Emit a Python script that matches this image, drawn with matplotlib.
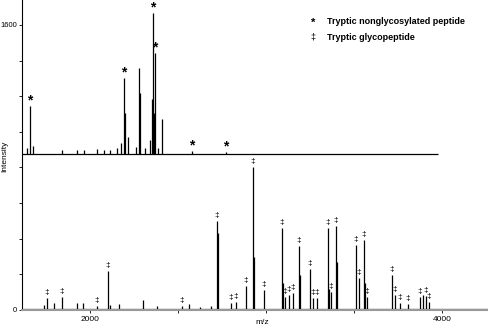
import matplotlib
matplotlib.use("Agg")
import matplotlib.pyplot as plt

plt.rcParams['font.family'] = ['Liberation Sans', 'DejaVu Sans']

# ---- data ----
top_offset = 876
top_mz = [1642, 1659, 1676, 1841, 1926, 1966, 2040, 2080, 2114, 2153, 2176, 2193,
          2199, 2216, 2261, 2278, 2284, 2313, 2341, 2352, 2358, 2366, 2369, 2386,
          2409, 2580, 2773]
top_int = [34, 270, 45, 22, 22, 22, 28, 22, 22, 34, 62, 427,
           230, 95, 39, 483, 343, 34, 79, 309, 792, 230, 567, 34,
           197, 17, 11]
top_starred = [1659, 2193, 2358, 2369, 2580, 2773]

bot_mz = [1739, 1756, 1795, 1841, 1926, 1960, 2040, 2102, 2114, 2165, 2301, 2381,
          2523, 2563, 2625, 2688, 2722, 2727, 2801, 2830, 2886, 2926, 2932, 2989,
          3091, 3097, 3108, 3131, 3153, 3188, 3193, 3250, 3267, 3290, 3352, 3358,
          3369, 3398, 3403, 3511, 3528, 3557, 3563, 3574, 3716, 3733, 3761, 3807,
          3875, 3892, 3909, 3926]
bot_int = [28, 67, 39, 73, 39, 39, 22, 219, 28, 34, 56, 22,
           22, 34, 17, 22, 500, 432, 39, 45, 135, 803, 300, 112,
           460, 150, 73, 84, 95, 359, 196, 230, 67, 67, 460, 120,
           101, 472, 270, 365, 180, 393, 150, 73, 196, 84, 39, 34,
           73, 84, 78, 45]
bot_marked = [1756, 1841, 2040, 2102, 2523, 2722, 2801, 2830, 2886, 2926, 2989,
              3091, 3108, 3131, 3153, 3188, 3250, 3267, 3290, 3352, 3369, 3398,
              3511, 3528, 3557, 3574, 3716, 3733, 3761, 3807, 3875, 3909, 3926]

xticks = [2000, 2500, 3000, 3500, 4000]
xticklabels = ['2000', '', '', '', '4000']
yticks = [0, 200, 400, 600, 800, 1000, 1200, 1400, 1600]
yticklabels = ['0', '', '', '', '', '', '', '', '1600']

# ---- figure ----
fig = plt.figure(figsize=(4.88, 3.24), dpi=100)
ax = fig.add_axes([22/488, 14/324, 466/488, 310/324])
ax.set_xlim(1614, 4261)
ax.set_ylim(0, 1740)

# baselines
ax.plot([1614, 3977], [top_offset, top_offset], color='black', lw=0.9, solid_capstyle='butt')
ax.plot([1614, 4261], [8, 8], color='#222222', lw=0.9)

# top spectrum
ax.vlines(top_mz, top_offset, [top_offset + v for v in top_int], color='black', lw=0.9)
for m, v in zip(top_mz, top_int):
    if m in top_starred:
        ax.annotate('*', (m, top_offset + v), xytext=(0, -1), textcoords='offset points',
                    ha='center', va='bottom', fontsize=10, fontweight='bold')

# bottom spectrum
ax.vlines(bot_mz, 0, bot_int, color='black', lw=0.9)
for m, v in zip(bot_mz, bot_int):
    if m in bot_marked:
        ax.annotate('‡', (m, v), xytext=(0, 1.5), textcoords='offset points',
                    ha='center', va='bottom', fontsize=6)

# axes styling
for s in ['top', 'right']:
    ax.spines[s].set_visible(False)
ax.spines['left'].set_linewidth(0.8)
ax.spines['bottom'].set_color('#999999')
ax.spines['bottom'].set_linewidth(1.5)
ax.set_xticks(xticks)
ax.set_xticklabels(xticklabels)
ax.set_yticks(yticks)
ax.set_yticklabels(yticklabels)
ax.tick_params(axis='both', direction='out', length=2.5, width=0.6, labelsize=6, pad=1.5)
ax.tick_params(axis='y', labelsize=5.5, pad=1)

fig.text(262/488, 1 - 322/324, 'm/z', ha='center', va='center', fontsize=6)
fig.text(5/488, 1 - 156/324, 'Intensity', rotation=90, ha='center', va='center', fontsize=6)

# legend text
fig.text(313/488, 1 - 23/324, '*', ha='center', va='center', fontsize=8, fontweight='bold')
fig.text(327/488, 1 - 21/324, 'Tryptic nonglycosylated peptide', ha='left', va='center',
         fontsize=6.5, fontweight='bold')
fig.text(313/488, 1 - 37/324, '‡', ha='center', va='center', fontsize=6.5)
fig.text(327/488, 1 - 37/324, 'Tryptic glycopeptide', ha='left', va='center',
         fontsize=6.5, fontweight='bold')

fig.savefig('out.png', dpi=100)
